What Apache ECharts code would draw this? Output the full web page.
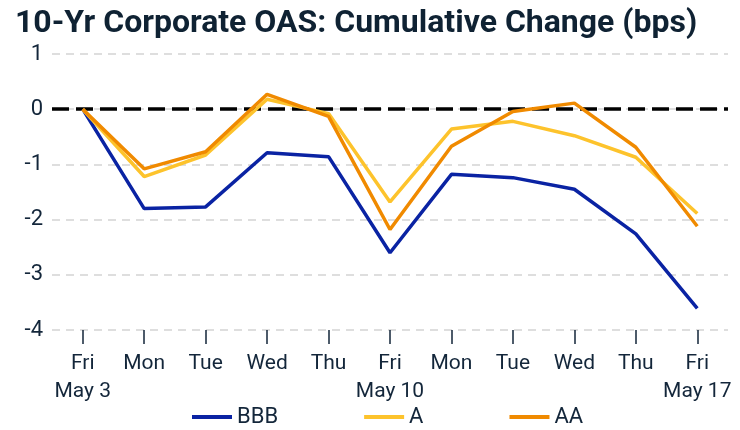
<!DOCTYPE html>
<html>
<head>
<meta charset="utf-8">
<script src="https://cdn.jsdelivr.net/npm/echarts@6/dist/echarts.min.js"></script>
<style>
  html, body { margin: 0; padding: 0; background: #ffffff; }
  #chart { width: 740px; height: 430px; }
</style>
</head>
<body>
<div id="chart"></div>
<script>
// x-axis categories (day + date on second line)
const days = ['Fri\nMay 3', 'Mon', 'Tue', 'Wed', 'Thu', 'Fri\nMay 10', 'Mon', 'Tue', 'Wed', 'Thu', 'Fri\nMay 17']

// cumulative change in bps
const bbb = [0, -1.80, -1.77, -0.79, -0.86, -2.60, -1.18, -1.24, -1.45, -2.26, -3.61]
const singleA = [0, -1.22, -0.83, 0.18, -0.08, -1.68, -0.36, -0.22, -0.48, -0.87, -1.89]
const doubleA = [0, -1.08, -0.77, 0.27, -0.13, -2.18, -0.67, -0.04, 0.11, -0.69, -2.12]

const yTicks = { min: -4, max: 1, interval: 1 }

const chart = echarts.init(document.getElementById('chart'))

const txt = '#13263a'
const font = 'Roboto'

const option = {
  animation: false,
  title: {
    text: '10-Yr Corporate OAS: Cumulative Change (bps)',
    left: 10,
    top: 3,
    textStyle: { fontFamily: font, fontWeight: 'bold', fontSize: 32, color: '#0f2233' }
  },
  grid: { left: 52, right: 12, top: 54, bottom: 100 },
  legend: {
    top: 401,
    left: 187,
    itemWidth: 40,
    itemHeight: 4,
    itemGap: 86,
    icon: 'rect',
    textStyle: { fontFamily: font, fontSize: 22, color: txt },
    data: ['BBB', 'A', 'AA']
  },
  xAxis: {
    type: 'category',
    data: days,
    boundaryGap: true,
    axisLine: { show: false, onZero: false },
    axisTick: { show: true, alignWithLabel: true, length: 14, lineStyle: { color: txt, width: 1.5 } },
    axisLabel: { fontFamily: font, fontSize: 21, color: txt, lineHeight: 28, margin: 20, interval: 0 }
  },
  yAxis: {
    type: 'value',
    min: yTicks.min,
    max: yTicks.max,
    interval: yTicks.interval,
    axisLine: { show: false },
    axisTick: { show: false },
    axisLabel: { fontFamily: font, fontSize: 22, color: txt, margin: 9 },
    splitLine: { lineStyle: { color: '#d4d4d4', width: 1.5, type: [8, 6] } }
  },
  series: [
    {
      name: 'BBB',
      type: 'line',
      data: bbb,
      symbol: 'none',
      lineStyle: { width: 3.5, color: '#0a23a3' },
      itemStyle: { color: '#0a23a3' },
      markLine: {
        silent: true,
        symbol: 'none',
        label: { show: false },
        lineStyle: { color: '#000000', width: 3.5, type: [17, 7] },
        data: [{ yAxis: 0 }],
        z: 1
      }
    },
    {
      name: 'A',
      type: 'line',
      data: singleA,
      symbol: 'none',
      lineStyle: { width: 3.5, color: '#fdc32c' },
      itemStyle: { color: '#fdc32c' }
    },
    {
      name: 'AA',
      type: 'line',
      data: doubleA,
      symbol: 'none',
      lineStyle: { width: 3.5, color: '#f08a00' },
      itemStyle: { color: '#f08a00' }
    }
  ]
}

chart.setOption(option)
</script>
</body>
</html>
